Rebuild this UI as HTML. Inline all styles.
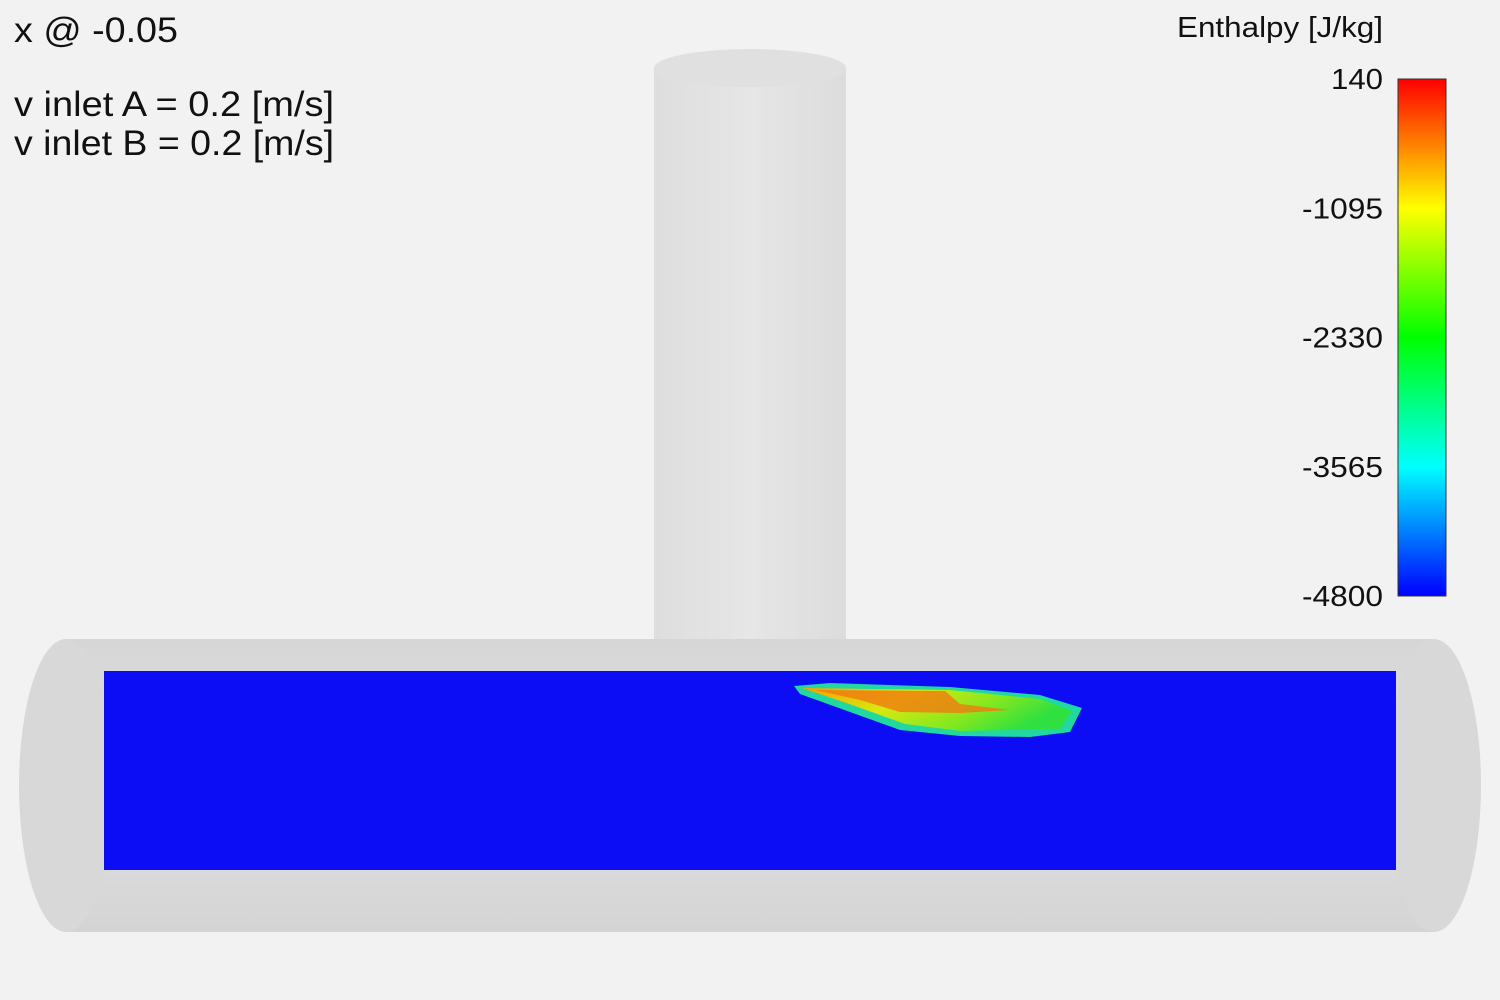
<!DOCTYPE html>
<html><head><meta charset="utf-8"><style>
html,body{margin:0;padding:0;background:#f2f2f2;}
svg{display:block;font-family:"Liberation Sans",sans-serif;}
</style></head><body>
<svg id="s" width="1500" height="1000" viewBox="0 0 1500 1000">
<defs>
<linearGradient id="cb" x1="0" y1="1" x2="0" y2="0">
<stop offset="0" stop-color="#0000ff"/><stop offset="0.25" stop-color="#00ffff"/>
<stop offset="0.5" stop-color="#00ff00"/><stop offset="0.75" stop-color="#ffff00"/>
<stop offset="1" stop-color="#ff0000"/></linearGradient>
<linearGradient id="vp" x1="0" x2="1"><stop offset="0" stop-color="#dedede"/><stop offset="0.5" stop-color="#e6e6e6"/><stop offset="1" stop-color="#dcdcdc"/></linearGradient>
<linearGradient id="hp" x1="0" y1="0" x2="0" y2="1"><stop offset="0" stop-color="#d6d6d6"/><stop offset="0.5" stop-color="#e2e2e2"/><stop offset="1" stop-color="#d4d4d4"/></linearGradient>
<linearGradient id="hot" x1="0" y1="0" x2="1" y2="0.3"><stop offset="0" stop-color="#f5a000"/><stop offset="0.4" stop-color="#d8e810"/><stop offset="0.75" stop-color="#80e820"/><stop offset="1" stop-color="#30e040"/></linearGradient>
</defs>
<g>
<rect x="654" y="68" width="192" height="600" fill="url(#vp)"/>
<ellipse cx="750" cy="68" rx="96" ry="19" fill="#e0e0e0"/>
<rect x="66" y="639" width="1368" height="293" fill="url(#hp)"/>
<ellipse cx="1434" cy="785.5" rx="47" ry="146.5" fill="#d8d8d8"/>
<ellipse cx="66" cy="785.5" rx="47" ry="146.5" fill="#d8d8d8"/>
</g>
<rect x="104" y="671" width="1292" height="199" fill="#0c0cf5"/>
<g>
<path d="M794 686 L830 683 L950 687 L1040 695 L1082 708 L1070 732 L1030 737 L960 736 L900 730 L850 712 L800 694 Z" fill="#20d8a0"/>
<path d="M802 688 L950 690 L1040 699 L1072 711 L1060 729 L960 731 L905 724 L855 706 Z" fill="url(#hot)"/>
<path d="M815 690 L945 691 L960 704 L1010 710 L960 713 L900 712 L860 700 Z" fill="#f07a10" opacity="0.8"/>
</g>
<g id="cbar">
<rect x="1398" y="79" width="48" height="517" fill="url(#cb)" stroke="#333" stroke-width="1"/>
<text x="1177" y="37" font-size="29" textLength="206" lengthAdjust="spacingAndGlyphs" fill="#111">Enthalpy [J/kg]</text>
</g>
<text x="14" y="42" font-size="35" textLength="164" lengthAdjust="spacingAndGlyphs" fill="#111">x @ -0.05</text>
<text x="14" y="116" font-size="35" textLength="320" lengthAdjust="spacingAndGlyphs" fill="#111">v inlet A = 0.2 [m/s]</text>
<text x="14" y="155" font-size="35" textLength="320" lengthAdjust="spacingAndGlyphs" fill="#111">v inlet B = 0.2 [m/s]</text>
</svg>
<script>
const tickValues = [140, -1095, -2330, -3565, -4800];
const vMin = -4800, vMax = 140;
const cbTop = 79, cbBottom = 596;
function yScale(v){ return cbBottom - (v - vMin) / (vMax - vMin) * (cbBottom - cbTop); }
const g = document.getElementById('cbar');
tickValues.forEach(v => {
  const t = document.createElementNS('http://www.w3.org/2000/svg','text');
  const s = String(v);
  t.setAttribute('x', 1383 - (s.length >= 5 ? 81 : 52));
  t.setAttribute('y', yScale(v) + 10);
  t.setAttribute('font-size', 29);
  t.setAttribute('textLength', s.length >= 5 ? 81 : 52);
  t.setAttribute('lengthAdjust', 'spacingAndGlyphs');
  t.setAttribute('fill', '#111');
  t.textContent = s;
  
  
  g.appendChild(t);
});
</script>
</body></html>
